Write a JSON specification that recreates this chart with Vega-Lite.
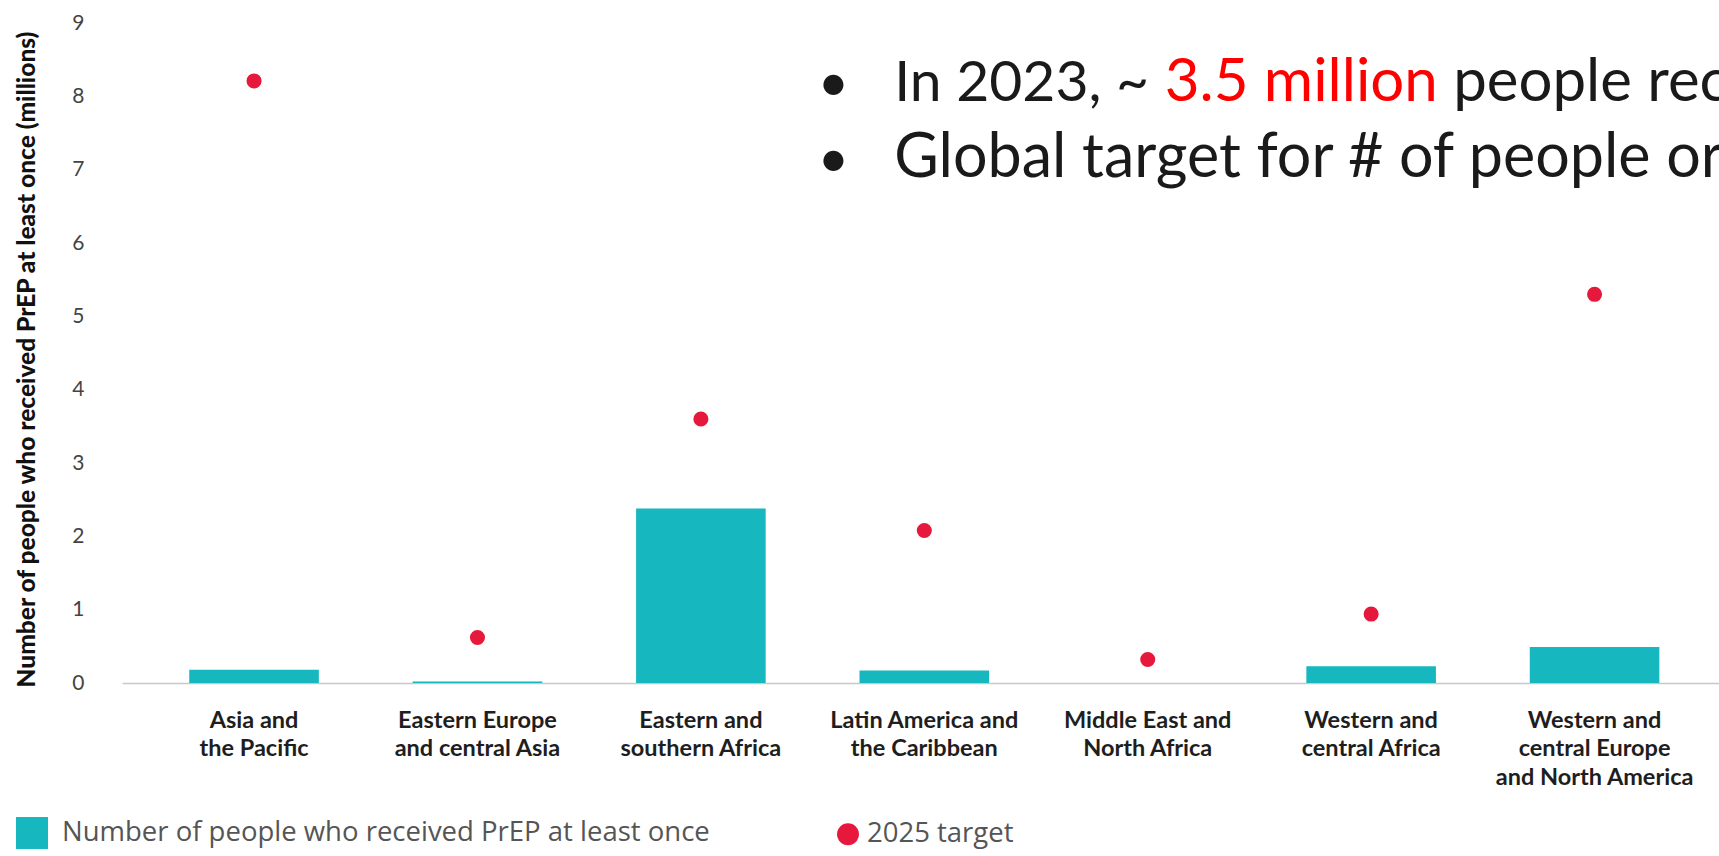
{
  "$schema": "https://vega.github.io/schema/vega-lite/v6.json",
  "width": 1597,
  "height": 660,
  "autosize": {"type": "none"},
  "padding": {"left": 122, "top": 23, "right": 0, "bottom": 173},
  "background": "white",
  "config": {"view": {"stroke": null}, "font": "Lato"},
  "data": {
    "values": [
      {"region": "Asia and the Pacific", "prep": 0.18, "target": 8.21},
      {"region": "Eastern Europe and central Asia", "prep": 0.02, "target": 0.62},
      {"region": "Eastern and southern Africa", "prep": 2.38, "target": 3.6},
      {"region": "Latin America and the Caribbean", "prep": 0.17, "target": 2.08},
      {"region": "Middle East and North Africa", "prep": 0, "target": 0.32},
      {"region": "Western and central Africa", "prep": 0.23, "target": 0.94},
      {"region": "Western and central Europe and North America", "prep": 0.49, "target": 5.3}
    ]
  },
  "encoding": {
    "x": {
      "field": "region",
      "type": "nominal",
      "sort": null,
      "scale": {"paddingInner": 0.42, "paddingOuter": 0.284, "align": 0.53},
      "axis": {
        "title": null,
        "labelAngle": 0,
        "ticks": false,
        "domainColor": "#c8c8c8",
        "domainWidth": 1.5,
        "labelFont": "Lato",
        "labelFontWeight": "bold",
        "labelFontSize": 23.5,
        "labelColor": "#1e1e1e",
        "labelLineHeight": 28.5,
        "labelPadding": 25,
        "labelLimit": 400,
        "labelOverlap": false,
        "labelExpr": "datum.label == 'Asia and the Pacific' ? ['Asia and', 'the Pacific'] : datum.label == 'Eastern Europe and central Asia' ? ['Eastern Europe', 'and central Asia'] : datum.label == 'Eastern and southern Africa' ? ['Eastern and', 'southern Africa'] : datum.label == 'Latin America and the Caribbean' ? ['Latin America and', 'the Caribbean'] : datum.label == 'Middle East and North Africa' ? ['Middle East and', 'North Africa'] : datum.label == 'Western and central Africa' ? ['Western and', 'central Africa'] : ['Western and', 'central Europe', 'and North America']"
      }
    }
  },
  "layer": [
    {
      "mark": {"type": "bar"},
      "encoding": {
        "y": {
          "field": "prep",
          "type": "quantitative",
          "scale": {"domain": [0, 9], "nice": false},
          "axis": {
            "values": [0, 1, 2, 3, 4, 5, 6, 7, 8, 9],
            "format": "d",
            "grid": false,
            "domain": false,
            "ticks": false,
            "labelFont": "Lato",
            "labelFontSize": 21,
            "labelColor": "#444444",
            "labelPadding": 38,
            "title": "Number of people who received PrEP at least once (millions)",
            "titleFont": "Lato",
            "titleFontSize": 24.5,
            "titleFontWeight": 900,
            "titleColor": "#111111",
            "titleBaseline": "alphabetic",
            "titleAlign": "center",
            "titleAngle": -90,
            "titleX": -88,
            "titleY": 336
          }
        },
        "color": {
          "datum": "Number of people who received PrEP at least once",
          "type": "nominal",
          "scale": {
            "domain": ["Number of people who received PrEP at least once", "2025 target"],
            "range": ["#16B7BE", "#E6193C"]
          },
          "legend": {
            "title": null,
            "orient": "none",
            "legendX": -106,
            "legendY": 794,
            "direction": "horizontal",
            "columns": 2,
            "columnPadding": 122,
            "padding": 0,
            "labelFont": "Open Sans",
            "labelFontSize": 27.5,
            "labelColor": "#555555",
            "labelLimit": 1000,
            "labelOffset": 14,
            "symbolSize": 1024,
            "symbolType": "square",
            "encode": {
              "symbols": {
                "update": {
                  "shape": {"signal": "datum.value == '2025 target' ? 'circle' : 'square'"},
                  "size": {"signal": "datum.value == '2025 target' ? 480 : 1024"},
                  "strokeWidth": {"value": 0},
                  "opacity": {"value": 1}
                }
              },
              "labels": {
                "update": {
                  "dx": {"signal": "datum.value == '2025 target' ? -11 : 0"}
                }
              }
            }
          }
        }
      }
    },
    {
      "mark": {"type": "point", "filled": true, "size": 227, "opacity": 1},
      "encoding": {
        "y": {"field": "target", "type": "quantitative"},
        "color": {"datum": "2025 target", "type": "nominal"}
      }
    },
    {
      "data": {"values": [{}]},
      "mark": {"type": "text", "text": "•", "font": "Lato", "fontSize": 54, "align": "center", "baseline": "alphabetic", "dx": -91, "color": "#1a1a1a"},
      "encoding": {
        "x": {"datum": "Latin America and the Caribbean", "type": "nominal"},
        "y": {"datum": 7.93, "type": "quantitative"}
      }
    },
    {
      "data": {"values": [{}]},
      "mark": {"type": "text", "text": "In 2023, ~", "font": "Lato", "fontSize": 57, "align": "left", "baseline": "alphabetic", "dx": -30, "color": "#1a1a1a"},
      "encoding": {
        "x": {"datum": "Latin America and the Caribbean", "type": "nominal"},
        "y": {"datum": 7.93, "type": "quantitative"}
      }
    },
    {
      "data": {"values": [{}]},
      "mark": {"type": "text", "text": "3.5 million", "font": "Lato", "fontSize": 60, "align": "left", "baseline": "alphabetic", "dx": 17, "color": "#FF0000"},
      "encoding": {
        "x": {"datum": "Middle East and North Africa", "type": "nominal"},
        "y": {"datum": 7.93, "type": "quantitative"}
      }
    },
    {
      "data": {"values": [{}]},
      "mark": {"type": "text", "text": "people rec", "font": "Lato", "fontSize": 60, "align": "left", "baseline": "alphabetic", "dx": 82, "color": "#1a1a1a"},
      "encoding": {
        "x": {"datum": "Western and central Africa", "type": "nominal"},
        "y": {"datum": 7.93, "type": "quantitative"}
      }
    },
    {
      "data": {"values": [{}]},
      "mark": {"type": "text", "text": "•", "font": "Lato", "fontSize": 54, "align": "center", "baseline": "alphabetic", "dx": -91, "color": "#1a1a1a"},
      "encoding": {
        "x": {"datum": "Latin America and the Caribbean", "type": "nominal"},
        "y": {"datum": 6.9, "type": "quantitative"}
      }
    },
    {
      "data": {"values": [{}]},
      "mark": {"type": "text", "text": "Global target for # of people or", "font": "Lato", "fontSize": 61, "align": "left", "baseline": "alphabetic", "dx": -30, "color": "#1a1a1a"},
      "encoding": {
        "x": {"datum": "Latin America and the Caribbean", "type": "nominal"},
        "y": {"datum": 6.9, "type": "quantitative"}
      }
    }
  ]
}
